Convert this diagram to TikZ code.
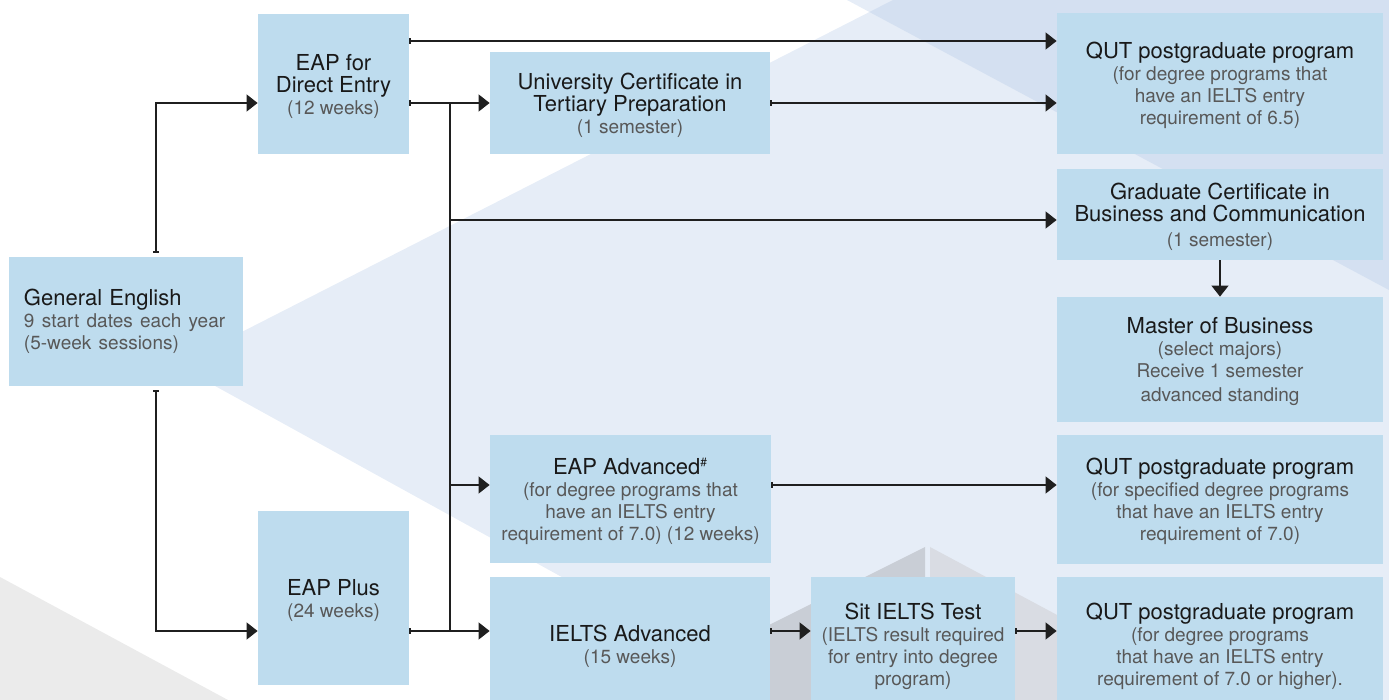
\documentclass[tikz,border=0pt]{standalone}
\usepackage{fontspec}
\setmainfont{TeX Gyre Heros}
\usepackage{tikz}
\usetikzlibrary{arrows.meta}
\definecolor{boxblue}{HTML}{BEDCEE}
\definecolor{bgblue}{HTML}{E6EDF7}
\definecolor{bgdark}{HTML}{D4E0F1}
\definecolor{bggray}{HTML}{EBEBEB}
\definecolor{housedark}{HTML}{C9CED6}
\definecolor{houselight}{HTML}{D9DCE3}
\definecolor{subgray}{HTML}{585858}
\newcommand{\subtxt}[1]{{\fontsize{9.5}{11}\selectfont\color{subgray}#1}}
\begin{document}
\begin{tikzpicture}[x=0.5pt,y=-0.5pt,
	box/.style={fill=boxblue, inner sep=0pt, align=center, text=black!90, text depth=-2pt, font=\fontsize{11}{11}\selectfont},
	boxsize/.style 2 args={minimum width=#1, minimum height=#2},
	link/.style={draw=black!88, line width=0.6pt},
	flow/.style={link, {Bar[width=3pt,line width=0.6pt]}-{Triangle[length=5.5pt,width=8.5pt]}},
	feed/.style={link, -{Triangle[length=5.5pt,width=8.5pt]}}]
						\clip (0,0) rectangle (1389,700);
						\fill[bgblue] (893,0)--(177,365)--(785,700)--(1389,700)--(1389,0)--cycle;
						\fill[bgblue] (847,0)--(1389,290)--(1389,0)--cycle;
						\begin{scope}
							\clip (893,0)--(177,365)--(785,700)--(1389,700)--(1389,0)--cycle;
							\fill[bgdark] (847,0)--(1389,290)--(1389,0)--cycle;
						\end{scope}
						\fill[bggray] (0,577)--(228,700)--(0,700)--cycle;
						\fill[housedark] (925,547)--(619,700)--(925,700)--cycle;
						\fill[houselight] (930,547)--(1216,700)--(930,700)--cycle;
						\node[box, boxsize={117pt}{64.5pt}, align=left, text width=102pt, text depth={}] (ge) at (126,321.5){General English\\\subtxt{9 start dates each year}\\\subtxt{(5-week sessions)}};
						\node[box, boxsize={75.5pt}{70pt}] (eapde) at (333.5,84){EAP for\\Direct Entry\\\subtxt{(12 weeks)}};
						\node[box, boxsize={75.5pt}{87pt}] (eapplus) at (333.5,598){EAP Plus\\\subtxt{(24 weeks)}};
						\node[box, boxsize={140pt}{51pt}] (uctp) at (630,103){University Certificate in\\Tertiary Preparation\\\subtxt{(1 semester)}};
						\node[box, boxsize={140.5pt}{64pt}] (eapadv) at (630.5,499){EAP Advanced\textsuperscript{\fontsize{6}{6}\selectfont\#}\\\subtxt{(for degree programs that}\\\subtxt{have an IELTS entry}\\\subtxt{requirement of 7.0) (12 weeks)}};
						\node[box, boxsize={140pt}{67pt}] (ieltsadv) at (630,644){IELTS Advanced\\\subtxt{(15 weeks)}};
						\node[box, boxsize={102pt}{67pt}] (sit) at (913,644){Sit IELTS Test\\\subtxt{(IELTS result required}\\\subtxt{for entry into degree}\\\subtxt{program)}};
						\node[box, boxsize={163pt}{70.5pt}] (qut1) at (1220,83.5){QUT postgraduate program\\\subtxt{(for degree programs that}\\\subtxt{have an IELTS entry}\\\subtxt{requirement of 6.5)}};
						\node[box, boxsize={163pt}{45.5pt}] (gcbc) at (1220,214.5){Graduate Certificate in\\Business and Communication\\[1.5pt]\subtxt{(1 semester)}};
						\node[box, boxsize={163pt}{62.5pt}] (mob) at (1220,359.5){Master of Business\\\subtxt{(select majors)}\\\subtxt{Receive 1 semester}\\[1pt]\subtxt{advanced standing}};
						\node[box, boxsize={163pt}{64.5pt}] (qut2) at (1220,499.5){QUT postgraduate program\\\subtxt{(for specified degree programs}\\\subtxt{that have an IELTS entry}\\\subtxt{requirement of 7.0)}};
						\node[box, boxsize={163pt}{67pt}] (qut3) at (1220,644){QUT postgraduate program\\\subtxt{(for degree programs}\\\subtxt{that have an IELTS entry}\\\subtxt{requirement of 7.0 or higher).}};
						\coordinate (toprow) at (0,41);
						\coordinate (gcrow) at (0,220);
						\coordinate (advrow) at (0,485);
						\coordinate (lowrow) at (0,631);
						\coordinate (gex) at (156,0);
						\coordinate (bus) at (450,0);
						\draw[flow, shorten <=2pt] (ge.north -| gex) |- (eapde.west |- uctp.west);
						\draw[flow, shorten <=2pt] (ge.south -| gex) |- (eapplus.west |- lowrow);
						\draw[flow] (eapde.east |- toprow) -- (qut1.west |- toprow);
						\draw[flow] (eapde.east |- uctp.west) -- (uctp.west);
						\draw[link] (bus |- uctp.west) -- (bus |- lowrow);
						\draw[feed] (bus |- gcrow) -- (gcbc.west |- gcrow);
						\draw[feed] (bus |- advrow) -- (eapadv.west |- advrow);
						\draw[flow] (eapplus.east |- lowrow) -- (ieltsadv.west |- lowrow);
						\draw[flow] (uctp.east) -- (qut1.west |- uctp.east);
						\draw[feed] (gcbc.south) -- (mob.north);
						\draw[flow] (eapadv.east |- advrow) -- (qut2.west |- advrow);
						\draw[flow] (ieltsadv.east |- lowrow) -- (sit.west |- lowrow);
						\draw[flow] (sit.east |- lowrow) -- (qut3.west |- lowrow);
					\end{tikzpicture}
\end{document}
